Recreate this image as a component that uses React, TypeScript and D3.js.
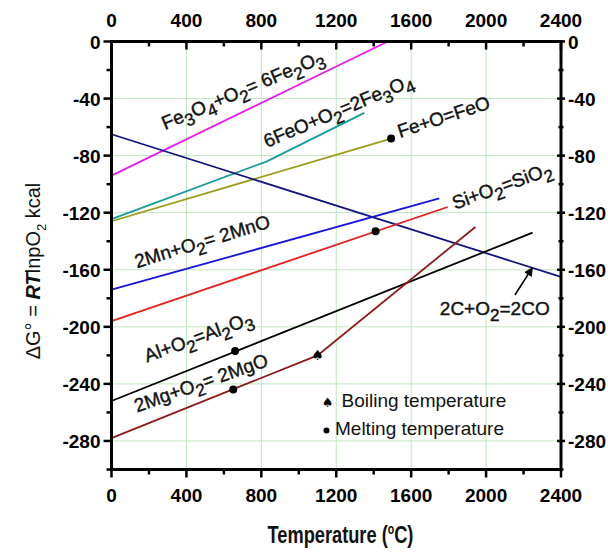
import React from "react";
import { scaleLinear, line, range } from "d3";

const width = 608;
const height = 553;

const margin = {
  top: 41.5,
  right: 47,
  bottom: 83.5,
  left: 111.5
};

const innerWidth = width - margin.left - margin.right;
const innerHeight = height - margin.top - margin.bottom;

// reactions: [temperature °C, ΔG kcal]
const fe2o3 = [[0, -94], [1475, 0]];
const fe3o4 = [[0, -124.5], [830, -84], [1350, -50]];
const feo = [[0, -126], [1493, -68]];
const co = [[0, -65], [2400, -165]];
const mno = [[0, -174], [1750, -110]];
const sio2 = [[0, -196], [1795, -116]];
const al2o3 = [[0, -252], [2248, -134]];
const mgo = [[0, -278], [1100, -220], [1943, -130]];

const series = [
  { data: fe2o3, color: "#e81ce8" },
  { data: fe3o4, color: "#189a9a" },
  { data: feo, color: "#9c9c1c" },
  { data: co, color: "#14147e" },
  { data: mno, color: "#1616d8" },
  { data: sio2, color: "#e42020" },
  { data: al2o3, color: "#000000" },
  { data: mgo, color: "#8c1a1a" }
];

const meltingPoints = [[1493, -68], [1410, -133], [660, -217], [650, -244]];
const boilingPoints = [[1100, -220]];

const lineLabels = [
  { text: "Fe_3O_4+O_2= 6Fe_2O_3", t: 286, g: -62, angle: -23 },
  { text: "6FeO+O_2=2Fe_3O_4", t: 830, g: -74.6, angle: -23 },
  { text: "Fe+O=FeO", t: 1540, g: -67.6, angle: -18 },
  { text: "2Mn+O_2= 2MnO", t: 136, g: -159, angle: -17 },
  { text: "Si+O_2=SiO_2", t: 1834, g: -118, angle: -20 },
  { text: "Al+O_2=Al_2O_3", t: 190, g: -225, angle: -20 },
  { text: "2Mg+O_2= 2MgO", t: 136, g: -260, angle: -19.5 },
  { text: "2C+O_2=2CO", t: 1753, g: -191.7, angle: 0 }
];

const coArrow = [[2154, -177.7], [2247, -158.6]];

const xTicks = range(0, 2401, 400);
const xMinor = range(0, 2401, 200);
const yTicks = range(0, -281, -40);
const yMinor = range(0, -301, -20);
const xGrid = range(400, 2001, 400);
const yGrid = range(-40, -281, -40);

const font = "'Liberation Sans', Arial, sans-serif";

const Formula = ({ text, x, y, angle, size }) => {
  const parts = text.split(/_(.)/);
  return (
    <text
      transform={`translate(${x},${y}) rotate(${angle})`}
      fontSize={size}
      fill="#111"
      stroke="#111"
      strokeWidth={0.4}
    >
      {parts.map((p, i) =>
        i % 2 ? (
          <tspan key={i} dy={6} fontSize={size * 0.9}>{p}</tspan>
        ) : (
          <tspan key={i} dy={i === 0 ? 0 : -6}>{p}</tspan>
        )
      )}
    </text>
  );
};

export default function App() {
  const xScale = scaleLinear().domain([0, 2400]).range([0, innerWidth]);
  const yScale = scaleLinear().domain([-300, 0]).range([innerHeight, 0]);

  const path = line()
    .x((d) => xScale(d[0]))
    .y((d) => yScale(d[1]));

  return (
    <svg width={width} height={height} style={{ display: "block", position: "absolute", left: 0, top: 0 }} fontFamily={font}>
      <defs>
        <marker id="ah" viewBox="0 0 10 10" refX="9" refY="5" markerWidth="6" markerHeight="6" orient="auto">
          <path d="M0,0 L10,5 L0,10 z" fill="#000" />
        </marker>
      </defs>
      <rect width={width} height={height} fill="#fff" />
      <g transform={`translate(${margin.left}, ${margin.top})`}>
        {/* grid */}
        {xGrid.map((t) => (
          <line key={"gx" + t} x1={xScale(t)} x2={xScale(t)} y1={0} y2={innerHeight} stroke="#bfe6bf" strokeWidth={1} />
        ))}
        {yGrid.map((t) => (
          <line key={"gy" + t} y1={yScale(t)} y2={yScale(t)} x1={0} x2={innerWidth} stroke="#bfe6bf" strokeWidth={1} />
        ))}

        {/* lines */}
        {series.map((s, i) => (
          <path key={i} d={path(s.data)} fill="none" stroke={s.color} strokeWidth={1.8} />
        ))}

        {/* markers */}
        {meltingPoints.map((d, i) => (
          <circle key={"m" + i} cx={xScale(d[0])} cy={yScale(d[1])} r={4} fill="#000" />
        ))}
        {boilingPoints.map((d, i) => (
          <text key={"b" + i} x={xScale(d[0])} y={yScale(d[1]) + 5} textAnchor="middle" fontSize={14} fontFamily="'DejaVu Sans'" fill="#000">♠</text>
        ))}

        {/* labels */}
        {lineLabels.map((l, i) => (
          <Formula key={i} text={l.text} x={xScale(l.t)} y={yScale(l.g)} angle={l.angle} size={19} />
        ))}
        <line
          x1={xScale(coArrow[0][0])}
          y1={yScale(coArrow[0][1])}
          x2={xScale(coArrow[1][0])}
          y2={yScale(coArrow[1][1])}
          stroke="#000"
          strokeWidth={1.5}
          markerEnd="url(#ah)"
        />

        {/* legend */}
        <text x={216} y={365} textAnchor="middle" fontSize={13} fontFamily="'DejaVu Sans'">♠</text>
        <text x={230} y={365} fontSize={19} fill="#111">Boiling temperature</text>
        <circle cx={215} cy={389} r={3} fill="#000" />
        <text x={223.5} y={393.5} fontSize={19} fill="#111">Melting temperature</text>

        {/* axes frame */}
        <rect x={0} y={0} width={innerWidth} height={innerHeight} fill="none" stroke="#000" strokeWidth={3} />

        {/* x ticks */}
        {xMinor.map((t) => {
          const len = t % 400 === 0 ? 8 : 5;
          return (
            <g key={"xt" + t}>
              <line x1={xScale(t)} x2={xScale(t)} y1={0} y2={len} stroke="#000" strokeWidth={2.5} />
              <line x1={xScale(t)} x2={xScale(t)} y1={innerHeight} y2={innerHeight + len} stroke="#000" strokeWidth={2.5} />
            </g>
          );
        })}
        {xTicks.map((t) => (
          <g key={"xl" + t} fontSize={19} fontWeight="bold" textAnchor="middle">
            <text x={xScale(t)} y={-15}>{t}</text>
            <text x={xScale(t)} y={innerHeight + 32}>{t}</text>
          </g>
        ))}

        {/* y ticks */}
        {yMinor.map((t) => {
          const len = t % 40 === 0 ? 8 : 5;
          return (
            <g key={"yt" + t}>
              <line x1={-len} x2={0} y1={yScale(t)} y2={yScale(t)} stroke="#000" strokeWidth={2.5} />
              <line x1={innerWidth - len / 2} x2={innerWidth + len / 2} y1={yScale(t)} y2={yScale(t)} stroke="#000" strokeWidth={2.5} />
            </g>
          );
        })}
        {yTicks.map((t) => (
          <g key={"yl" + t} fontSize={19} fontWeight="bold">
            <text x={-11} y={yScale(t) + 7} textAnchor="end">{t}</text>
            <text x={innerWidth + 7} y={yScale(t) + 7}>{t}</text>
          </g>
        ))}
      </g>

      {/* axis titles */}
      <g transform="translate(340.5,543) scale(0.76,1)">
        <text x={0} y={0} fontSize={24} fontWeight="bold" textAnchor="middle" fill="#111">
          Temperature (<tspan dy={-9} fontSize={14}>o</tspan><tspan dy={9}>C)</tspan>
        </text>
      </g>
      <text transform="translate(40,271) rotate(-90)" fontSize={20} textAnchor="middle" fill="#111">
        ΔG° = <tspan fontWeight="bold" fontStyle="italic">RT</tspan>lnpO<tspan dy={6} fontSize={13}>2</tspan><tspan dy={-6}> kcal</tspan>
      </text>
    </svg>
  );
}
